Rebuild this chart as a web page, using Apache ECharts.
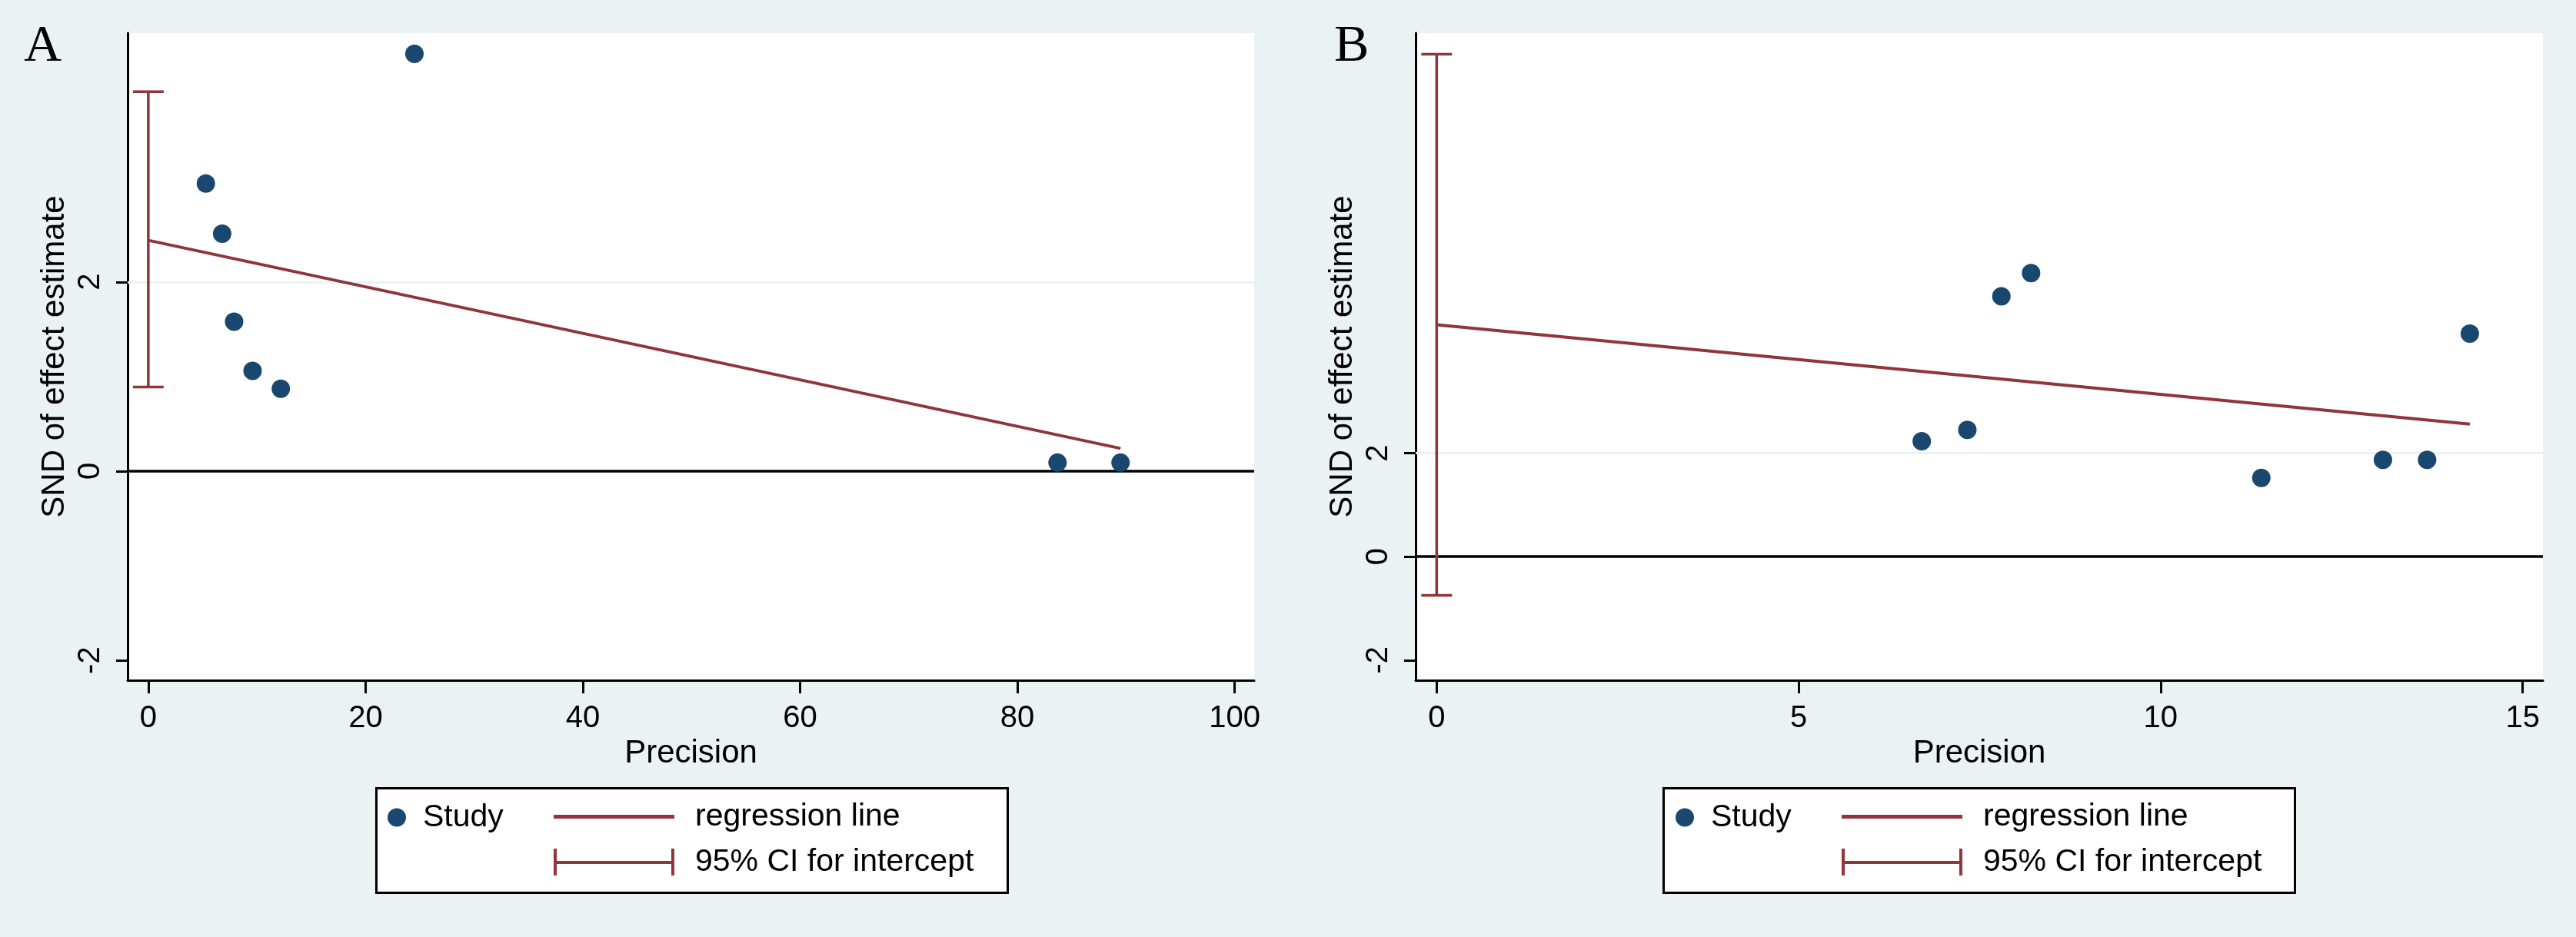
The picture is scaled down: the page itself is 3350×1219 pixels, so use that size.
<!DOCTYPE html>
<html>
<head>
<meta charset="utf-8">
<script src="https://cdn.jsdelivr.net/npm/echarts@6/dist/echarts.min.js"></script>
<style>
  html, body { margin: 0; padding: 0; background: #EAF2F3; }
  #chart { width: 3350px; height: 1219px; }
</style>
</head>
<body>
<div id="chart"></div>
<script>
(function() {
  var navy = '#1A476F';
  var maroon = '#90353B';
  var bg = '#EAF2F3';
  var font = "'Liberation Sans', Arial, sans-serif";

  // panel A: precision vs SND of effect estimate
  var precisionA = [5.3, 6.8, 7.9, 9.6, 12.2, 24.5, 83.7, 89.5];
  var sndA = [3.04, 2.51, 1.58, 1.06, 0.87, 4.41, 0.09, 0.09];
  var regLineA = [[0, 2.44], [89.5, 0.24]];
  var ciA = [[0, 0.89, 4.01]];
  var xTicksA = [0, 20, 40, 60, 80, 100];

  // panel B
  var precisionB = [6.70, 7.33, 7.80, 8.21, 11.39, 13.07, 13.68, 14.27];
  var sndB = [2.23, 2.45, 5.03, 5.48, 1.52, 1.87, 1.87, 4.31];
  var regLineB = [[0, 4.48], [14.27, 2.56]];
  var ciB = [[0, -0.75, 9.71]];
  var xTicksB = [0, 5, 10, 15];

  var yTicks = [-2, 0, 2];

  function zip(xs, ys) {
    return xs.map(function(x, i) { return [x, ys[i]]; });
  }

  var chart = echarts.init(document.getElementById('chart'));

  function xAxis(idx, min, max, ticks) {
    return {
      type: 'value', gridIndex: idx, min: min, max: max,
      name: 'Precision', nameLocation: 'middle', nameGap: 73,
      nameTextStyle: { color: '#000', fontSize: 42, fontFamily: font },
      axisLine: { onZero: false, lineStyle: { color: '#000', width: 3 } },
      axisTick: { show: true, length: 17, lineStyle: { color: '#000', width: 3 }, customValues: ticks },
      axisLabel: { color: '#000', fontSize: 40, fontFamily: font, margin: 30, customValues: ticks },
      splitLine: { show: false }
    };
  }

  function yAxis(idx, min, max) {
    return {
      type: 'value', gridIndex: idx, min: min, max: max,
      name: 'SND of effect estimate', nameLocation: 'middle', nameGap: 74,
      nameTextStyle: { color: '#000', fontSize: 42, fontFamily: font },
      axisLine: { onZero: false, lineStyle: { color: '#000', width: 3 } },
      axisTick: { show: true, length: 15, lineStyle: { color: '#000', width: 3 }, customValues: yTicks },
      axisLabel: { color: '#000', fontSize: 40, fontFamily: font, margin: 28, rotate: 90, customValues: yTicks },
      splitLine: { show: false }
    };
  }

  function ciRender(params, api) {
    var x = api.value(0);
    var lo = api.coord([x, api.value(1)]);
    var hi = api.coord([x, api.value(2)]);
    var cap = 20;
    var st = { stroke: maroon, lineWidth: 3.5 };
    return {
      type: 'group',
      children: [
        { type: 'line', shape: { x1: hi[0], y1: hi[1], x2: lo[0], y2: lo[1] }, style: st },
        { type: 'line', shape: { x1: hi[0] - cap, y1: hi[1], x2: hi[0] + cap, y2: hi[1] }, style: st },
        { type: 'line', shape: { x1: lo[0] - cap, y1: lo[1], x2: lo[0] + cap, y2: lo[1] }, style: st }
      ]
    };
  }

  function panelSeries(idx, pts, reg, ci) {
    return [
      {
        name: 'Study', type: 'scatter', xAxisIndex: idx, yAxisIndex: idx,
        data: pts, symbolSize: 24, itemStyle: { color: navy, opacity: 1 }, z: 5
      },
      {
        name: 'regression line', type: 'line', xAxisIndex: idx, yAxisIndex: idx,
        data: reg, symbol: 'none', lineStyle: { color: maroon, width: 4 },
        itemStyle: { color: maroon }, z: 4
      },
      {
        name: '95% CI for intercept', type: 'custom', xAxisIndex: idx, yAxisIndex: idx,
        data: ci, renderItem: ciRender, encode: { x: 0, y: [1, 2] },
        itemStyle: { color: maroon }, z: 3,
        // gridline at 2 and reference line at 0, kept below the marks
        markLine: {
          silent: true, symbol: 'none', label: { show: false }, z: 1,
          data: [
            { yAxis: 2, lineStyle: { color: bg, width: 3, type: 'solid' } },
            { yAxis: 0, lineStyle: { color: '#000', width: 3.5, type: 'solid' } }
          ]
        }
      }
    ];
  }

  var lineIcon = 'path://M0,0H157V5H0Z';
  var ciIcon = 'path://M0,0H4V16H153V0H157V35H153V20H4V35H0Z';

  function legends(dx) {
    return [
      {
        left: 504 + dx, top: 1043, padding: 0, selectedMode: false,
        itemWidth: 24, itemHeight: 24,
        data: [{ name: 'Study', icon: 'circle' }],
        textStyle: { color: '#000', fontSize: 41, fontFamily: font, padding: [0, 0, 0, 17] }
      },
      {
        left: 720 + dx, top: 1042, padding: 0, orient: 'vertical', selectedMode: false,
        itemWidth: 157, itemHeight: 35, itemGap: 18,
        data: [
          { name: 'regression line', icon: lineIcon },
          { name: '95% CI for intercept', icon: ciIcon }
        ],
        textStyle: { color: '#000', fontSize: 41, fontFamily: font, padding: [0, 0, 0, 22] }
      }
    ];
  }

  function legendBox(x) {
    return {
      type: 'rect', left: x, top: 1024, z: -1,
      shape: { width: 821, height: 136 },
      style: { fill: '#fff', stroke: '#000', lineWidth: 3 }
    };
  }

  var panelLabel = { color: '#000', fontSize: 68, fontWeight: 'normal', fontFamily: "'Liberation Serif', 'Times New Roman', serif" };

  chart.setOption({
    backgroundColor: bg,
    animation: false,
    title: [
      { text: 'A', left: 31, top: 27, padding: 0, textStyle: panelLabel },
      { text: 'B', left: 1735, top: 27, padding: 0, textStyle: panelLabel }
    ],
    grid: [
      { left: 166, top: 43, width: 1465, height: 842, show: true, backgroundColor: '#fff', borderWidth: 0 },
      { left: 1841, top: 43, width: 1466, height: 842, show: true, backgroundColor: '#fff', borderWidth: 0 }
    ],
    xAxis: [xAxis(0, -1.9, 101.8, xTicksA), xAxis(1, -0.29, 15.28, xTicksB)],
    yAxis: [yAxis(0, -2.21, 4.63), yAxis(1, -2.39, 10.12)],
    legend: legends(0).concat(legends(1675)),
    graphic: [legendBox(488), legendBox(2162)],
    series: panelSeries(0, zip(precisionA, sndA), regLineA, ciA)
      .concat(panelSeries(1, zip(precisionB, sndB), regLineB, ciB))
  });

  window.addEventListener('resize', function() { chart.resize(); });
})();
</script>
</body>
</html>
